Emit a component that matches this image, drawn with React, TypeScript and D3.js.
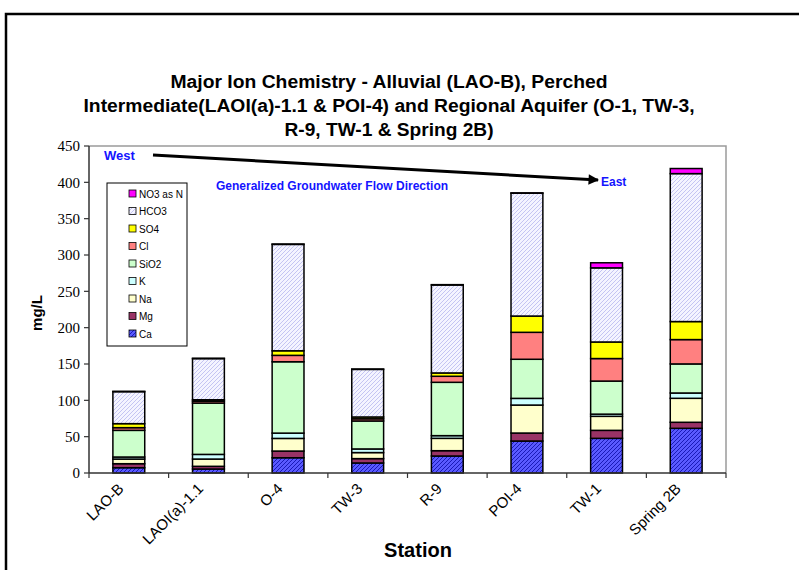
import React from "react";
import * as d3 from "d3";

const stations = ["LAO-B", "LAOI(a)-1.1", "O-4", "TW-3", "R-9", "POI-4", "TW-1", "Spring 2B"];
const ions = ["Ca", "Mg", "Na", "K", "SiO2", "Cl", "SO4", "HCO3", "NO3 as N"];
const Ca = [7.3, 5.5, 21, 13.8, 23.4, 44, 47.7, 61.5];
const Mg = [5.5, 3.7, 9.2, 6, 7.3, 11, 11, 8.3];
const Na = [6.4, 10, 17.4, 8.3, 17, 38.5, 19.3, 33];
const K = [2.8, 6.4, 7.3, 5, 3.7, 9.2, 3, 7.3];
const SiO2 = [36.7, 70.6, 98.2, 38.5, 73.4, 53.8, 45.5, 40];
const Cl = [3.7, 2.5, 8.8, 3, 8.3, 37.1, 31, 33.5];
const SO4 = [5.5, 2.1, 6.3, 2.5, 4.6, 22.4, 22.8, 24.8];
const HCO3 = [44, 56.6, 146.4, 65.5, 121, 169, 102, 203.6];
const NO3 = [0.5, 0.5, 0.5, 0.5, 0.5, 0.5, 7, 7];
const yTicks = [0, 50, 100, 150, 200, 250, 300, 350, 400, 450];
const titleLines = [
  "Major Ion Chemistry - Alluvial (LAO-B), Perched",
  "Intermediate(LAOI(a)-1.1 & POI-4) and Regional Aquifer (O-1, TW-3,",
  "R-9, TW-1 & Spring 2B)",
];
const titleWidths = [437, 611, 209];

const seriesValues = [Ca, Mg, Na, K, SiO2, Cl, SO4, HCO3, NO3];
const fills = [
  "url(#patCa)",
  "#993366",
  "#FFFFCC",
  "#CCFFFF",
  "#CCFFCC",
  "#FF8080",
  "#FFFF00",
  "url(#patHCO3)",
  "#FF00FF",
];

export default function App() {
  const W = 799, H = 570;
  const left = 89, right = 726, top = 146, bottom = 473;
  const x = d3.scaleBand().domain(stations).range([left, right]).paddingInner(0.6).paddingOuter(0.3);
  const y = d3.scaleLinear().domain([0, 450]).range([bottom, top]);
  const rows = stations.map((s, i) => {
    const r: any = { station: s };
    ions.forEach((k, j) => (r[k] = seriesValues[j][i]));
    return r;
  });
  const stack = d3.stack().keys(ions)(rows as any);
  const step = x.step();
  const boundaries = d3.range(stations.length + 1).map((i) => left + i * step);
  const blue = "#1414ff";
  const font = "Liberation Sans, Arial, sans-serif";
  const legendItems = ions.map((k, j) => ({ k, fill: fills[j] })).reverse();

  return (
    <svg width={W} height={H} style={{ position: "absolute", left: 0, top: 0, background: "#fff" }}>
      <defs>
        <pattern id="patCa" width="4" height="4" patternUnits="userSpaceOnUse">
          <rect width="4" height="4" fill="#5a5aff" />
          <path d="M0,4 L4,0 M-1,1 L1,-1 M3,5 L5,3" stroke="#1a1ab8" strokeWidth="1" />
        </pattern>
        <pattern id="patHCO3" width="4" height="4" patternUnits="userSpaceOnUse">
          <rect width="4" height="4" fill="#f4f4ff" />
          <path d="M0,4 L4,0 M-1,1 L1,-1 M3,5 L5,3" stroke="#c4c4f2" strokeWidth="1" />
        </pattern>
        <marker id="arrowHead" viewBox="0 0 10 10" refX="9" refY="5" markerWidth="4.5" markerHeight="3.5" orient="auto" markerUnits="strokeWidth">
          <path d="M0,0 L10,5 L0,10 z" fill="#000" />
        </marker>
      </defs>
      <rect x={0} y={0} width={W} height={H} fill="#fff" />
      {/* chart area border */}
      <path d={`M6,${H + 5} L6,14 L${W + 5},14`} fill="none" stroke="#000" strokeWidth={2.5} />

      {/* title */}
      {titleLines.map((t, i) => (
        <text
          key={i}
          x={389}
          y={88 + i * 24}
          textAnchor="middle"
          fontFamily={font}
          fontWeight="bold"
          fontSize={18}
          textLength={titleWidths[i]}
          lengthAdjust="spacingAndGlyphs"
          fill="#000"
        >
          {t}
        </text>
      ))}

      {/* plot border */}
      <path d={`M${left},${top} L${right},${top} L${right},${bottom}`} fill="none" stroke="#9a9a9a" strokeWidth={1.5} />

      {/* bars */}
      {stack.map((layer: any, j: number) => (
        <g key={ions[j]}>
          {layer.map((d: any, i: number) => (
            <rect
              key={i}
              x={x(stations[i])}
              width={x.bandwidth()}
              y={y(d[1])}
              height={Math.max(0, y(d[0]) - y(d[1]))}
              fill={fills[j]}
              stroke="#000"
              strokeWidth={1.5}
            />
          ))}
        </g>
      ))}

      {/* y axis */}
      <line x1={left} x2={left} y1={top} y2={bottom} stroke="#333" strokeWidth={1.5} />
      {yTicks.map((t) => (
        <g key={t}>
          <line x1={left - 5} x2={left} y1={y(t)} y2={y(t)} stroke="#333" strokeWidth={1.2} />
          <text x={left - 9} y={y(t)} dy="0.35em" textAnchor="end" fontFamily="Liberation Serif, Times New Roman, serif" fontSize={15} fill="#000">
            {t}
          </text>
        </g>
      ))}
      {/* x axis */}
      <line x1={left} x2={right} y1={bottom} y2={bottom} stroke="#333" strokeWidth={1.5} />
      {boundaries.map((bx, i) => (
        <line key={i} x1={bx} x2={bx} y1={bottom} y2={bottom + 5} stroke="#333" strokeWidth={1.2} />
      ))}
      {stations.map((s) => (
        <text
          key={s}
          transform={`translate(${(x(s) as number) + x.bandwidth() / 2 - 8},${bottom + 13}) rotate(-45)`}
          textAnchor="end"
          dy="0.35em"
          fontFamily={font}
          fontSize={15}
          fill="#000"
        >
          {s}
        </text>
      ))}

      {/* axis titles */}
      <text x={418} y={557} textAnchor="middle" fontFamily={font} fontWeight="bold" fontSize={20} fill="#000">
        Station
      </text>
      <text transform={`translate(42,313) rotate(-90)`} textAnchor="middle" fontFamily={font} fontWeight="bold" fontSize={15} fill="#000">
        mg/L
      </text>

      {/* legend */}
      <rect x={107} y={183} width={80} height={163} fill="#fff" stroke="#000" strokeWidth={1} />
      {legendItems.map((it, i) => (
        <g key={it.k}>
          <rect x={129} y={190 + i * 17.5} width={7} height={7} fill={it.fill} stroke="#000" strokeWidth={0.8} />
          <text x={139} y={194 + i * 17.5} dy="0.35em" fontFamily={font} fontSize={10} fill="#000">
            {it.k}
          </text>
        </g>
      ))}

      {/* flow direction annotation */}
      <line x1={153} y1={155} x2={598} y2={180} stroke="#000" strokeWidth={3} markerEnd="url(#arrowHead)" />
      <text x={104} y={160} fontFamily={font} fontWeight="bold" fontSize={13} fill={blue}>
        West
      </text>
      <text x={601} y={186} fontFamily={font} fontWeight="bold" fontSize={12} fill={blue}>
        East
      </text>
      <text x={216} y={190} fontFamily={font} fontWeight="bold" fontSize={12} fill={blue}>
        Generalized Groundwater Flow Direction
      </text>
    </svg>
  );
}
